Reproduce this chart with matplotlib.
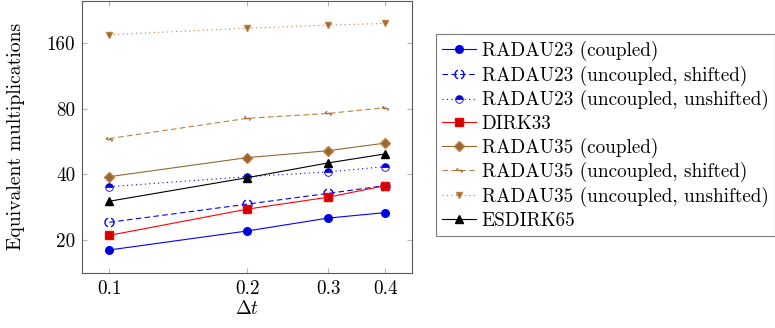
import numpy as np
import matplotlib
matplotlib.use("Agg")
import matplotlib.pyplot as plt
from matplotlib.path import Path
from matplotlib.ticker import FixedLocator, FixedFormatter, NullLocator

plt.rcParams['font.family'] = 'serif'
plt.rcParams['font.serif'] = ['cmr10', 'DejaVu Serif']
plt.rcParams['mathtext.fontset'] = 'cm'
plt.rcParams['axes.formatter.use_mathtext'] = True

dt = [0.1, 0.2, 0.3, 0.4]
x_ticks = [0.1, 0.2, 0.3, 0.4]
x_ticklabels = ["0.1", "0.2", "0.3", "0.4"]
y_ticks = [20, 40, 80, 160]
y_ticklabels = ["20", "40", "80", "160"]

labels = [
    "RADAU23 (coupled)",
    "RADAU23 (uncoupled, shifted)",
    "RADAU23 (uncoupled, unshifted)",
    "DIRK33",
    "RADAU35 (coupled)",
    "RADAU35 (uncoupled, shifted)",
    "RADAU35 (uncoupled, unshifted)",
    "ESDIRK65",
]
radau23_coupled = [18.0, 22.0, 25.2, 26.7]
radau23_shifted = [24.1, 29.2, 32.7, 35.5]
radau23_unshifted = [35.1, 39.0, 41.0, 43.4]
dirk33 = [21.0, 27.7, 31.4, 35.5]
radau35_coupled = [39.0, 47.7, 51.3, 55.6]
radau35_shifted = [58.3, 72.2, 76.0, 80.8]
radau35_unshifted = [174.5, 186.8, 193.0, 196.5]
esdirk65 = [30.1, 38.6, 45.1, 49.6]

blue = (0, 0, 1)
blue_d = (0, 0, 0.8)
red = (1, 0, 0)
red_d = (0.8, 0, 0)
brown = (0.75, 0.5, 0.25)
brown_d = (0.6, 0.4, 0.2)

# custom markers: dashed circle and dashed diamond
arcL = Path.arc(110, 250)
arcR = Path.arc(290, 70)
dashed_circle = Path.make_compound_path(arcL, arcR)
dd_verts = [(-0.75, 0.0), (-0.35, 0.5), (0.0, 1.0), (0.0, 1.0),
            (-0.45, -0.05), (0.45, 0.05), (0.75, 0.0), (0.4, -0.45)]
dd_codes = [Path.MOVETO, Path.LINETO, Path.MOVETO, Path.LINETO,
            Path.MOVETO, Path.LINETO, Path.MOVETO, Path.LINETO]
dashed_diamond = Path(dd_verts, dd_codes)

fs = 13.8
fig = plt.figure(figsize=(7.75, 3.28), dpi=100)
ax = fig.add_axes([0.1062, 0.1686, 0.425, 0.8284])

lw = 0.8
ms = 5.5
ax.plot(dt, radau23_coupled, color=blue, lw=lw, marker='o', ms=ms,
        mfc=blue_d, mec=blue, label=labels[0])
ax.plot(dt, radau23_shifted, color=blue, lw=lw, ls=(0, (5, 3)), marker=dashed_circle,
        ms=ms + 1, mfc='none', mec=blue, mew=1.0, label=labels[1])
ax.plot(dt, radau23_unshifted, color=blue, lw=lw, ls=(0, (1, 3)), marker='o', ms=ms,
        fillstyle='top', mfc=blue_d, mfcalt='white', mec=blue, mew=0.6, label=labels[2])
ax.plot(dt, dirk33, color=red, lw=lw, marker='s', ms=ms,
        mfc=red_d, mec=red, label=labels[3])
ax.plot(dt, radau35_coupled, color=brown_d, lw=lw, marker='D', ms=ms - 0.8,
        mfc=brown_d, mec=brown, label=labels[4])
ax.plot(dt, radau35_shifted, color=brown, lw=lw, ls=(0, (5, 3)), marker=dashed_diamond,
        ms=ms + 1, mfc='none', mec=brown_d, mew=1.0, label=labels[5])
ax.plot(dt, radau35_unshifted, color=brown, lw=lw, ls=(0, (1, 3)), marker='v', ms=ms - 1,
        mfc=brown_d, mec=brown, label=labels[6])
ax.plot(dt, esdirk65, color='black', lw=lw, marker='^', ms=ms,
        mfc='black', mec='black', label=labels[7])

ax.set_xscale('log')
ax.set_yscale('log')
ax.set_xlim(0.1 * 2 ** -0.196, 0.4 * 2 ** 0.191)
ax.set_ylim(20 * 2 ** -0.498, 20 * 2 ** 3.638)

ax.xaxis.set_major_locator(FixedLocator(x_ticks))
ax.xaxis.set_major_formatter(FixedFormatter(x_ticklabels))
ax.xaxis.set_minor_locator(NullLocator())
ax.yaxis.set_major_locator(FixedLocator(y_ticks))
ax.yaxis.set_major_formatter(FixedFormatter(y_ticklabels))
ax.yaxis.set_minor_locator(NullLocator())

ax.tick_params(axis='both', which='major', direction='in', length=3.6, width=0.8,
               color='0.7', labelsize=fs, top=True, right=True, pad=5)
for s in ax.spines.values():
    s.set_color('0.35')
    s.set_linewidth(0.8)

ax.set_xlabel(r'$\Delta t$', fontsize=fs, labelpad=2)
ax.set_ylabel('Equivalent multiplications', fontsize=fs + 0.4, labelpad=16)

leg = fig.legend(loc='upper left', bbox_to_anchor=(435.7 / 775, 1 - 34 / 328),
                 borderaxespad=0, fontsize=fs, frameon=True, fancybox=False,
                 handlelength=1.75, handletextpad=0.3, labelspacing=0.24,
                 borderpad=0.35)
leg.get_frame().set_edgecolor('0.35')
leg.get_frame().set_linewidth(0.8)

fig.savefig('out.png', dpi=100)
